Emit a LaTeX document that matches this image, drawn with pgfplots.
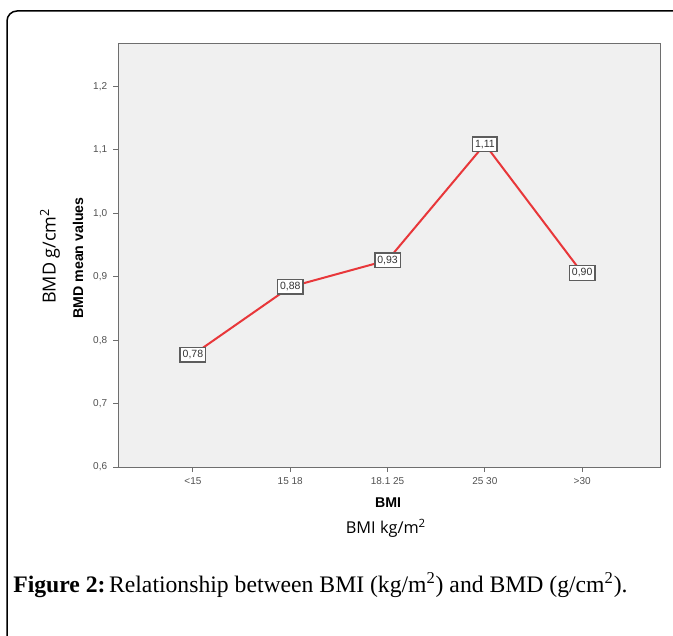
\documentclass[border=0pt]{standalone}
\usepackage{pgfplots}
\pgfplotsset{compat=1.18}
\usepackage{fontspec}
\setmainfont{Liberation Serif}
\setsansfont{Liberation Sans}
\newfontfamily\opensans{Open Sans}
\definecolor{plotbg}{HTML}{F0F0F0}
\definecolor{linered}{HTML}{E8373A}
\definecolor{axisgray}{HTML}{6E6E6E}
\definecolor{ticktext}{HTML}{505050}

\begin{document}
\begin{tikzpicture}
% page = 673x635 px, 1 px = 0.6pt
\useasboundingbox (0,0) rectangle (403.8pt,381pt);
\draw[line width=0.9pt, rounded corners=6pt] (4.2pt,-30pt) -- (4.2pt,374.4pt) -- (440pt,374.4pt);

\begin{axis}[
    at={(70.8pt,100.8pt)}, anchor=south west,
    scale only axis, width=325.2pt, height=253.8pt,
    xmin=-0.77, xmax=4.8, ymin=0.6, ymax=1.267,
    axis background/.style={fill=plotbg},
    axis line style={draw=axisgray, line width=0.6pt},
    xtick={0,...,4},
    xticklabels={{<15},{15 18},{18.1 25},{25 30},{>30}},
    ytick={0.6,0.7,0.8,0.9,1.0,1.1,1.2},
    tick align=outside, tick pos=left,
    major tick length=3pt,
    tick style={draw=axisgray, line width=0.6pt},
    ticklabel style={font=\sffamily\fontsize{6}{7}\selectfont, text=ticktext},
    /pgf/number format/assume math mode=true,
    yticklabel style={/pgf/number format/.cd, fixed, fixed zerofill, precision=1, use comma},
    clip=false,
]
\addplot[draw=linered, line width=1.2pt, mark=none,
    point meta=explicit symbolic, nodes near coords,
    every node near coord/.append style={anchor=center, draw=axisgray!85!black, fill=white,
        line width=0.9pt, inner xsep=1.5pt, inner ysep=1.8pt,
        font=\sffamily\fontsize{6.3}{7}\selectfont, text=black!80}]
coordinates {
    (0,0.777) [0,78]
    (1,0.884) [0,88]
    (2,0.926) [0,93]
    (3,1.109) [1,11]
    (4,0.906) [0,90]
};
\end{axis}

\node[rotate=90, font=\opensans\fontsize{10.8}{12}\selectfont] at (30pt,227.4pt) {BMD g/cm\textsuperscript{2}};
\node[rotate=90, font=\sffamily\bfseries\fontsize{8.5}{10}\selectfont] at (46.8pt,226.2pt) {BMD mean values};
\node[font=\sffamily\bfseries\fontsize{8.5}{10}\selectfont] at (232.8pt,79.2pt) {BMI};
\node[font=\opensans\fontsize{9.8}{12}\selectfont] at (231.6pt,64.2pt) {BMI kg/m\textsuperscript{2}};
\node[anchor=west, inner sep=0pt, font=\fontsize{14.2}{16}\selectfont] at (7.8pt,30pt)
    {\textbf{Figure 2:}\hspace{0.15em}Relationship between BMI (kg/m\textsuperscript{2}) and BMD (g/cm\textsuperscript{2}).};
\end{tikzpicture}
\end{document}
